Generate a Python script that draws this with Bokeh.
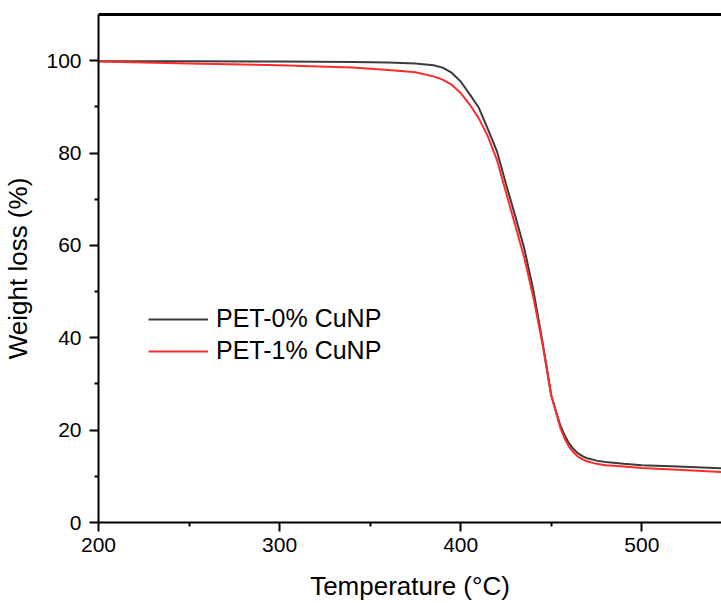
from bokeh.plotting import figure
from bokeh.models import Range1d, LinearAxis, Legend, LegendItem, FixedTicker
from bokeh.embed import file_html
from bokeh.resources import INLINE

# Data
temperature = [200, 250, 300, 340, 360, 375, 385, 390, 395, 400, 405, 410, 415,
               420, 425, 430, 435, 440, 445, 450, 455, 457.5, 460, 462.5, 465,
               467.5, 470, 475, 480, 490, 500, 520, 545]
pet_0 = [99.9, 99.9, 99.8, 99.7, 99.6, 99.4, 99.0, 98.5, 97.4, 95.5, 92.7, 89.8,
         85.2, 80.4, 73.3, 66.5, 59.5, 50.5, 39.5, 27.5, 21.0, 18.8, 17.0, 15.8,
         14.9, 14.3, 13.9, 13.4, 13.1, 12.7, 12.4, 12.1, 11.7]
pet_1 = [99.8, 99.4, 99.0, 98.5, 98.0, 97.5, 96.6, 95.9, 94.8, 93.0, 90.5, 87.5,
         83.6, 78.5, 71.5, 64.5, 57.5, 49.0, 39.0, 27.5, 20.5, 18.1, 16.3, 15.1,
         14.2, 13.6, 13.2, 12.7, 12.4, 12.1, 11.8, 11.4, 10.9]
series_names = ["PET-0% CuNP", "PET-1% CuNP"]
x_ticks = [200, 300, 400, 500]
x_minor = [250, 350, 450]
y_ticks = [0, 20, 40, 60, 80, 100]
y_minor = [10, 30, 50, 70, 90]

FONT = "Liberation Sans"

p = figure(width=721, height=603, output_backend="svg", toolbar_location=None,
           x_range=Range1d(200, 544), y_range=Range1d(0, 110),
           x_axis_label="Temperature (°C)", y_axis_label="Weight loss (%)",
           min_border_left=97, min_border_right=0, min_border_top=14,
           min_border_bottom=77)
p.outline_line_color = None
p.grid.visible = False
p.background_fill_color = "white"
p.border_fill_color = "white"

r0 = p.line(temperature, pet_0, line_color="#3b3b3b", line_width=2)
r1 = p.line(temperature, pet_1, line_color="#ff2b2b", line_width=2)

for ax in (p.xaxis[0], p.yaxis[0]):
    ax.axis_line_width = 2
    ax.axis_line_color = "black"
    ax.major_tick_line_color = "black"
    ax.minor_tick_line_color = "black"
    ax.major_tick_line_width = 2
    ax.minor_tick_line_width = 2
    ax.major_tick_in = 0
    ax.major_tick_out = 9
    ax.minor_tick_in = 0
    ax.minor_tick_out = 4
    ax.major_label_text_font = FONT
    ax.major_label_text_font_size = "21px"
    ax.major_label_text_color = "black"
    ax.axis_label_text_font = FONT
    ax.axis_label_text_font_size = "26px"
    ax.axis_label_text_font_style = "normal"
    ax.axis_label_text_color = "black"

p.xaxis[0].ticker = FixedTicker(ticks=x_ticks, minor_ticks=x_minor)
p.yaxis[0].ticker = FixedTicker(ticks=y_ticks, minor_ticks=y_minor)
p.xaxis[0].major_label_standoff = 6
p.yaxis[0].major_label_standoff = 8
p.xaxis[0].axis_label_standoff = 16
p.yaxis[0].axis_label_standoff = 10

top = LinearAxis(ticker=FixedTicker(ticks=[]), major_label_text_font_size="0px",
                 axis_line_width=3, axis_line_color="black",
                 major_tick_line_color=None, minor_tick_line_color=None)
p.add_layout(top, "above")

legend = Legend(items=[LegendItem(label=series_names[0], renderers=[r0]),
                       LegendItem(label=series_names[1], renderers=[r1])],
                location=(50, 157))
legend.label_text_font = FONT
legend.label_text_font_size = "25px"
legend.label_text_color = "black"
legend.glyph_width = 60
legend.glyph_height = 26
legend.label_height = 26
legend.label_standoff = 8
legend.spacing = 3
legend.padding = 0
legend.margin = 0
legend.border_line_color = None
legend.background_fill_alpha = 0
p.add_layout(legend)

open("out.html", "w").write(file_html(p, INLINE))
